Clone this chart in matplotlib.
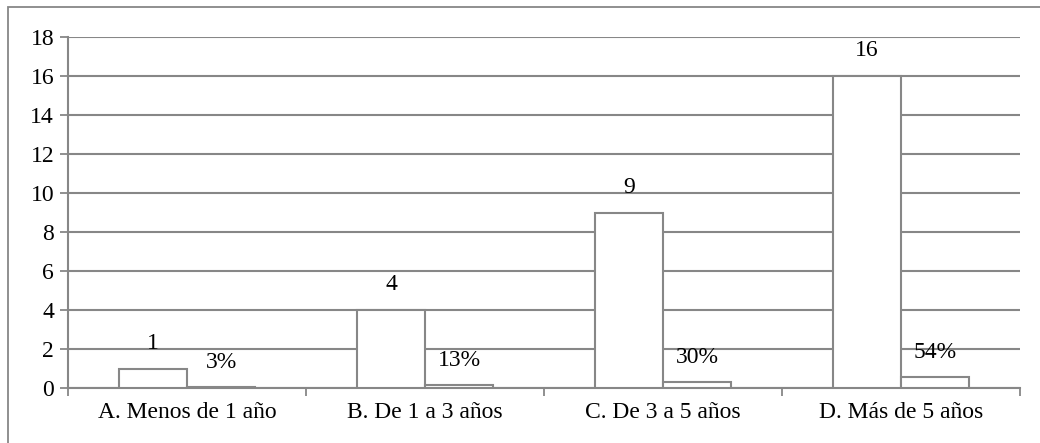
import numpy as np
import matplotlib.pyplot as plt
from matplotlib.patches import Rectangle

categories = ["A. Menos de 1 año", "B. De 1 a 3 años", "C. De 3 a 5 años", "D. Más de 5 años"]
counts = [1, 4, 9, 16]
shares = [0.03, 0.13, 0.30, 0.54]
share_labels = ["3%", "13%", "30%", "54%"]

plt.rcParams['font.family'] = ['Liberation Serif', 'DejaVu Serif']
gray = '#878787'
fs = 17

fig = plt.figure(figsize=(10.4, 4.43), dpi=100)
ax = fig.add_axes([68 / 1040, 1 - 388 / 443, (1020 - 68) / 1040, (388 - 37) / 443])

# outer frame of the chart area
fig.patches.append(Rectangle((8 / 1040, -0.1), 1.2, 1 - 7 / 443 + 0.1, transform=fig.transFigure,
                             fill=False, edgecolor=gray, linewidth=1.3))

x = np.arange(len(categories))
w = 0.286
ax.bar(x - w / 2, counts, w, facecolor='white', edgecolor=gray, linewidth=1.5, zorder=3)
ax.bar(x + w / 2, shares, w, facecolor='white', edgecolor=gray, linewidth=1.5, zorder=3)

for i in range(len(categories)):
    ax.annotate(str(counts[i]), (x[i] - w / 2, counts[i]), xytext=(0, 25), textcoords='offset pixels',
                ha='center', va='center', fontsize=fs, zorder=4)
    ax.annotate(share_labels[i], (x[i] + w / 2, shares[i]), xytext=(0, 25), textcoords='offset pixels',
                ha='center', va='center', fontsize=fs, zorder=4)

ax.set_xlim(-0.5, len(categories) - 0.5)
ax.set_ylim(0, 18)
ax.set_yticks(range(0, 19, 2))
ax.set_xticks(x)
ax.set_xticklabels(categories, fontsize=fs)
ax.set_xticks(np.arange(-0.5, len(categories)), minor=True)
ax.tick_params(axis='x', which='major', length=0, pad=10)
ax.tick_params(axis='x', which='minor', length=6, color=gray, width=1.3)
ax.tick_params(axis='y', length=6, color=gray, width=1.3, labelsize=fs, pad=4)

ax.yaxis.grid(True, color=gray, linewidth=1.5, zorder=0)
for s in ['top', 'right']:
    ax.spines[s].set_visible(False)
for s in ['left', 'bottom']:
    ax.spines[s].set_color(gray)
    ax.spines[s].set_linewidth(1.5)

fig.savefig('out.png', dpi=100)
